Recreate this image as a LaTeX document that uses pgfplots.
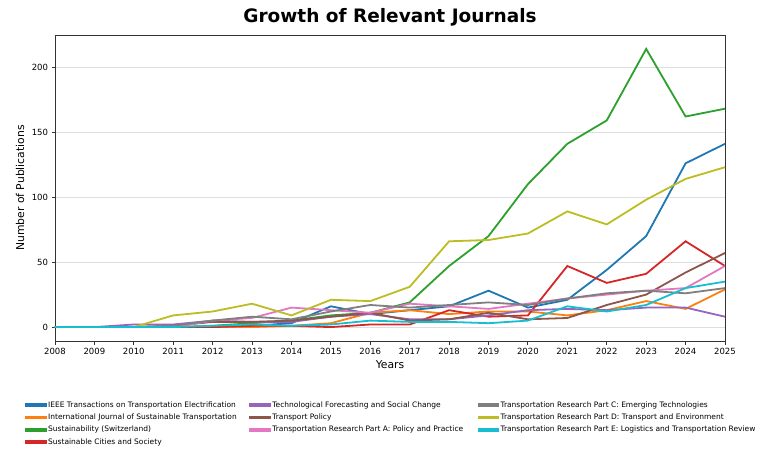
\documentclass[border=0pt]{standalone}
\usepackage{fontspec}
\setmainfont{DejaVu Sans}
\usepackage{pgfplots}
\pgfplotsset{compat=1.18}
\definecolor{c0}{HTML}{1F77B4}
\definecolor{c1}{HTML}{FF7F0E}
\definecolor{c2}{HTML}{2CA02C}
\definecolor{c3}{HTML}{D62728}
\definecolor{c4}{HTML}{9467BD}
\definecolor{c5}{HTML}{8C564B}
\definecolor{c6}{HTML}{E377C2}
\definecolor{c7}{HTML}{7F7F7F}
\definecolor{c8}{HTML}{BCBD22}
\definecolor{c9}{HTML}{17BECF}
\begin{document}
\begin{tikzpicture}
\useasboundingbox (-55pt,-107pt) rectangle (705pt,341pt);
\begin{axis}[
  at={(0pt,0pt)}, anchor=south west,
  scale only axis, width=670pt, height=306pt,
  xmin=2008, xmax=2025, ymin=-10.7, ymax=224.7,
  xtick={2008,2009,...,2025},
  ytick={0,50,100,150,200},
  /pgf/number format/1000 sep={},
  /pgf/number format/assume math mode=true,
  ticklabel style={font=\fontsize{8.5}{10}\selectfont},
  tick pos=left, tick align=outside, major tick length=3.5pt,
  tick style={color=black!80, line width=0.8pt},
  axis line style={color=black!80, line width=0.9pt},
  ymajorgrids, grid style={color=black!13, line width=0.8pt},
  every axis title shift=0pt,
  title={Growth of Relevant Journals},
  title style={font=\fontsize{18.5}{21}\selectfont\bfseries, at={(axis description cs:0.5,1.058)}, anchor=center},
  xlabel={Years},
  xlabel style={font=\fontsize{10.8}{12}\selectfont, at={(axis description cs:0.5,-0.078)}, anchor=center},
  ylabel={Number of Publications},
  ylabel style={font=\fontsize{10.8}{12}\selectfont, at={(axis description cs:-0.052,0.5)}, anchor=center, rotate=0},
  legend columns=3,
  legend cell align=left,
  legend image code/.code={\fill[#1] (0pt,-0.9pt) rectangle (20pt,0.9pt);},
  legend style={at={(axis description cs:-0.0448,-0.193)}, anchor=north west,
    draw=none, fill=none, inner sep=0pt, row sep=2.8pt,
    font=\fontsize{7.5}{8.5}\selectfont,
    nodes={inner sep=1.2pt, text height=5.6pt, text depth=1.6pt}},
  every axis plot/.append style={line width=1.8pt},
]
% IEEE Transactions on Transportation Electrification
\addplot[c0, forget plot] coordinates {(2008,0)(2009,0)(2010,0)(2011,0)(2012,0)(2013,1)(2014,3)(2015,16)(2016,10)(2017,13)(2018,16)(2019,28)(2020,15)(2021,21)(2022,44)(2023,70)(2024,126)(2025,141)};
% International Journal of Sustainable Transportation
\addplot[c1, forget plot] coordinates {(2008,0)(2009,0)(2010,0)(2011,0)(2012,0)(2013,0)(2014,1)(2015,3)(2016,11)(2017,13)(2018,10)(2019,12)(2020,12)(2021,9)(2022,13)(2023,20)(2024,14)(2025,29)};
% Sustainability (Switzerland)
\addplot[c2, forget plot] coordinates {(2008,0)(2009,0)(2010,0)(2011,0)(2012,1)(2013,3)(2014,5)(2015,9)(2016,11)(2017,19)(2018,47)(2019,70)(2020,110)(2021,141)(2022,159)(2023,214)(2024,162)(2025,168)};
% Sustainable Cities and Society
\addplot[c3, forget plot] coordinates {(2008,0)(2009,0)(2010,0)(2011,0)(2012,0)(2013,1)(2014,1)(2015,0)(2016,2)(2017,2)(2018,13)(2019,8)(2020,9)(2021,47)(2022,34)(2023,41)(2024,66)(2025,47)};
% Technological Forecasting and Social Change
\addplot[c4, forget plot] coordinates {(2008,0)(2009,0)(2010,2)(2011,2)(2012,5)(2013,4)(2014,4)(2015,8)(2016,10)(2017,6)(2018,6)(2019,9)(2020,13)(2021,14)(2022,13)(2023,15)(2024,15)(2025,8)};
% Transport Policy
\addplot[c5, forget plot] coordinates {(2008,0)(2009,0)(2010,0)(2011,1)(2012,4)(2013,4)(2014,5)(2015,8)(2016,11)(2017,5)(2018,6)(2019,11)(2020,6)(2021,7)(2022,17)(2023,25)(2024,42)(2025,57)};
% Transportation Research Part A
\addplot[c6, forget plot] coordinates {(2008,0)(2009,0)(2010,0)(2011,0)(2012,5)(2013,7)(2014,15)(2015,13)(2016,11)(2017,18)(2018,16)(2019,14)(2020,18)(2021,22)(2022,25)(2023,28)(2024,30)(2025,47)};
% Transportation Research Part C
\addplot[c7, forget plot] coordinates {(2008,0)(2009,0)(2010,0)(2011,1)(2012,5)(2013,8)(2014,6)(2015,12)(2016,17)(2017,15)(2018,17)(2019,19)(2020,17)(2021,22)(2022,26)(2023,28)(2024,26)(2025,30)};
% Transportation Research Part D
\addplot[c8, forget plot] coordinates {(2008,0)(2009,0)(2010,0)(2011,9)(2012,12)(2013,18)(2014,9)(2015,21)(2016,20)(2017,31)(2018,66)(2019,67)(2020,72)(2021,89)(2022,79)(2023,98)(2024,114)(2025,123)};
% Transportation Research Part E
\addplot[c9, forget plot] coordinates {(2008,0)(2009,0)(2010,0)(2011,0)(2012,1)(2013,2)(2014,1)(2015,2)(2016,5)(2017,4)(2018,4)(2019,3)(2020,5)(2021,16)(2022,12)(2023,17)(2024,30)(2025,35)};
% legend, row-major order reproducing column-major layout
\addlegendimage{c0}\addlegendentry{\makebox[200pt][l]{IEEE Transactions on Transportation Electrification}}
\addlegendimage{c4}\addlegendentry{\makebox[204pt][l]{Technological Forecasting and Social Change}}
\addlegendimage{c7}\addlegendentry{Transportation Research Part C: Emerging Technologies}
\addlegendimage{c1}\addlegendentry{International Journal of Sustainable Transportation}
\addlegendimage{c5}\addlegendentry{Transport Policy}
\addlegendimage{c8}\addlegendentry{Transportation Research Part D: Transport and Environment}
\addlegendimage{c2}\addlegendentry{Sustainability (Switzerland)}
\addlegendimage{c6}\addlegendentry{Transportation Research Part A: Policy and Practice}
\addlegendimage{c9}\addlegendentry{Transportation Research Part E: Logistics and Transportation Review}
\addlegendimage{c3}\addlegendentry{Sustainable Cities and Society}
\end{axis}
\end{tikzpicture}
\end{document}
